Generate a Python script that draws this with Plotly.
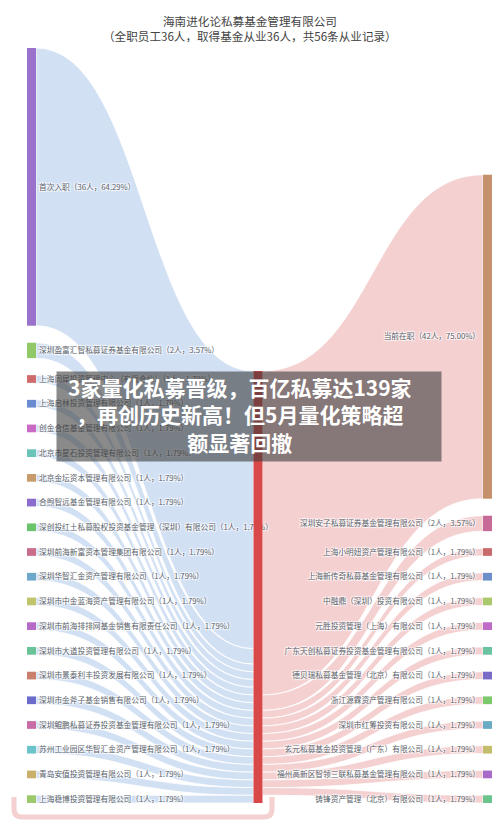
import plotly.graph_objects as go

# ---------------- data ----------------
company = "海南进化论私募基金管理有限公司"
subtitle = "（全职员工36人，取得基金从业36人，共56条从业记录）"
total_records = 56

left_names = [
    "首次入职",
    "深圳盈富汇智私募证券基金有限公司",
    "上海同犀投资管理中心（有限合伙）",
    "上海启林投资管理有限公司",
    "创金合信基金管理有限公司",
    "北京市星石投资管理有限公司",
    "北京金坛资本管理有限公司",
    "合煦智远基金管理有限公司",
    "深创投红土私募股权投资基金管理（深圳）有限公司",
    "深圳前海新富资本管理集团有限公司",
    "深圳华智汇金资产管理有限公司",
    "深圳市中金蓝海资产管理有限公司",
    "深圳市前海排排网基金销售有限责任公司",
    "深圳市大道投资管理有限公司",
    "深圳市景泰利丰投资发展有限公司",
    "深圳市金斧子基金销售有限公司",
    "深圳鲲鹏私募证券投资基金管理有限公司",
    "苏州工业园区华智汇金资产管理有限公司",
    "青岛安值投资管理有限公司",
    "上海稳博投资管理有限公司",
]
left_values = [36, 2] + [1] * 18
left_colors = ["#9b72cb", "#91c968", "#d06b6b", "#6b8bd0", "#c96bc4", "#6bc4b8",
               "#c79b6b", "#8a6bce", "#6bc46b", "#c96b8a", "#6ba8c9", "#c2c46b",
               "#b66bc9", "#6bc497", "#c97f6b", "#6b6bc9", "#c96ba6", "#6bc4c9",
               "#c9b06b", "#9cc96b"]

right_names = [
    "当前在职",
    "深圳安子私募证券基金管理有限公司",
    "上海小明妞资产管理有限公司",
    "上海新传奇私募基金管理有限公司",
    "中融鼎（深圳）投资有限公司",
    "元胜投资管理（上海）有限公司",
    "广东天创私募证券投资基金管理有限公司",
    "德贝瑞私募基金管理（北京）有限公司",
    "浙江源霖资产管理有限公司",
    "深圳市红筹投资有限公司",
    "玄元私募基金投资管理（广东）有限公司",
    "福州高新区智领三联私募基金管理有限公司",
    "铸锋资产管理（北京）有限公司",
]
right_values = [42, 2] + [1] * 11
right_colors = ["#c4916b", "#c86a98", "#c96b6b", "#6b8fc9", "#a9c96b", "#c16bc9",
                "#6bc4a1", "#7b6bc9", "#7bc96b", "#6baac4", "#c4bd6b", "#a96bc9",
                "#6bc48b"]
middle_color = "#d94848"

banner_lines = ["3家量化私募晋级，百亿私募达139家", "，再创历史新高！但5月量化策略超", "额显著回撤"]

# ---------------- layout geometry ----------------
FIG_W, FIG_H = 500, 833
DOM_L, DOM_R, DOM_T, DOM_B = 27, 492, 48, 803
W = DOM_R - DOM_L
H = DOM_B - DOM_T
PAD = 17
THICK = 9

def lab(name, n):
    return f"{name}（{n}人，{n / total_records * 100:.2f}%）"

labels = [lab(n, v) for n, v in zip(left_names, left_values)] + [""] + \
         [lab(n, v) for n, v in zip(right_names, right_values)]
colors = left_colors + [middle_color] + right_colors

ky = (H - (len(left_values) - 1) * PAD) / sum(left_values)
xs, ys = [], []
cum = 0.0
for v in left_values:
    xs.append((THICK / 2) / W)
    ys.append((cum + v * ky / 2) / H)
    cum += v * ky + PAD
mid_val = max(sum(left_values), sum(right_values))
xs.append((258 - DOM_L) / W)
ys.append((H - mid_val * ky / 2) / H)
rys = []
cum = float(H)
for v in reversed(right_values):
    rys.append((cum - v * ky / 2) / H)
    cum -= v * ky + PAD
rys.reverse()
for y in rys:
    xs.append(1 - (THICK / 2) / W)
    ys.append(y)

mid = len(left_values)
src = list(range(len(left_values))) + [mid] * len(right_values)
tgt = [mid] * len(left_values) + [mid + 1 + j for j in range(len(right_values))]
vals = left_values + right_values
lcol = ["#d2e0f4"] * len(left_values) + ["#f4d0d1"] * len(right_values)

fig = go.Figure(go.Sankey(
    arrangement="fixed",
    domain=dict(x=[DOM_L / FIG_W, DOM_R / FIG_W], y=[1 - DOM_B / FIG_H, 1 - DOM_T / FIG_H]),
    node=dict(label=labels, color=colors, x=xs, y=ys, pad=PAD, thickness=THICK,
              line=dict(width=0)),
    link=dict(source=src, target=tgt, value=vals, color=lcol,
              line=dict(color="white", width=0.8)),
    textfont=dict(family="Noto Sans CJK SC", size=7.7, color="#5a5f6a"),
    hoverinfo="none",
))

def py(px):
    return 1 - px / FIG_H

def px_(x):
    return x / FIG_W

annotations = [
    dict(text=company, x=0.5, y=py(21), xref="paper", yref="paper", showarrow=False,
         font=dict(family="Noto Sans CJK SC", size=11.6, color="#444"), yanchor="middle"),
    dict(text=subtitle, x=0.5, y=py(36), xref="paper", yref="paper", showarrow=False,
         font=dict(family="Noto Sans CJK SC", size=11.6, color="#444"), yanchor="middle"),
    dict(text=" ", x=(57 + 441) / 2 / FIG_W, y=py((372 + 461) / 2), xref="paper", yref="paper",
         showarrow=False, width=384, height=89, bgcolor="rgba(60,60,60,0.6)", borderpad=0,
         xanchor="center", yanchor="middle"),
    dict(text="<b>" + "<br>".join(banner_lines) + "</b>", x=240 / FIG_W, y=py(414),
         xref="paper", yref="paper", showarrow=False, xanchor="center", yanchor="middle",
         font=dict(family="Noto Sans CJK SC", size=21, color="white")),
]

# frame at bottom: white interior + pink open U-shaped border
x0, x1, ytop, y1, r = 14, 272, 797, 817, 8
ring = (f"M {px_(x0)},{py(ytop)} L {px_(x0)},{py(y1 - r)} "
        f"Q {px_(x0)},{py(y1)} {px_(x0 + r)},{py(y1)} "
        f"L {px_(x1 - r)},{py(y1)} Q {px_(x1)},{py(y1)} {px_(x1)},{py(y1 - r)} "
        f"L {px_(x1)},{py(ytop)}")
shapes = [
    dict(type="rect", xref="paper", yref="paper", layer="above",
         x0=px_(x0), x1=px_(x1), y0=py(y1), y1=py(803.5),
         line=dict(width=0), fillcolor="white"),
    dict(type="path", path=ring, xref="paper", yref="paper", layer="above",
         line=dict(color="#f5d0d0", width=5)),
]

fig.update_layout(
    width=FIG_W, height=FIG_H,
    margin=dict(l=0, r=0, t=0, b=0),
    paper_bgcolor="white", plot_bgcolor="white",
    annotations=annotations,
    shapes=shapes,
)

fig.write_html("out.html", config={"displayModeBar": False},
               post_script="document.body.style.margin='0';document.body.style.overflow='hidden';")
